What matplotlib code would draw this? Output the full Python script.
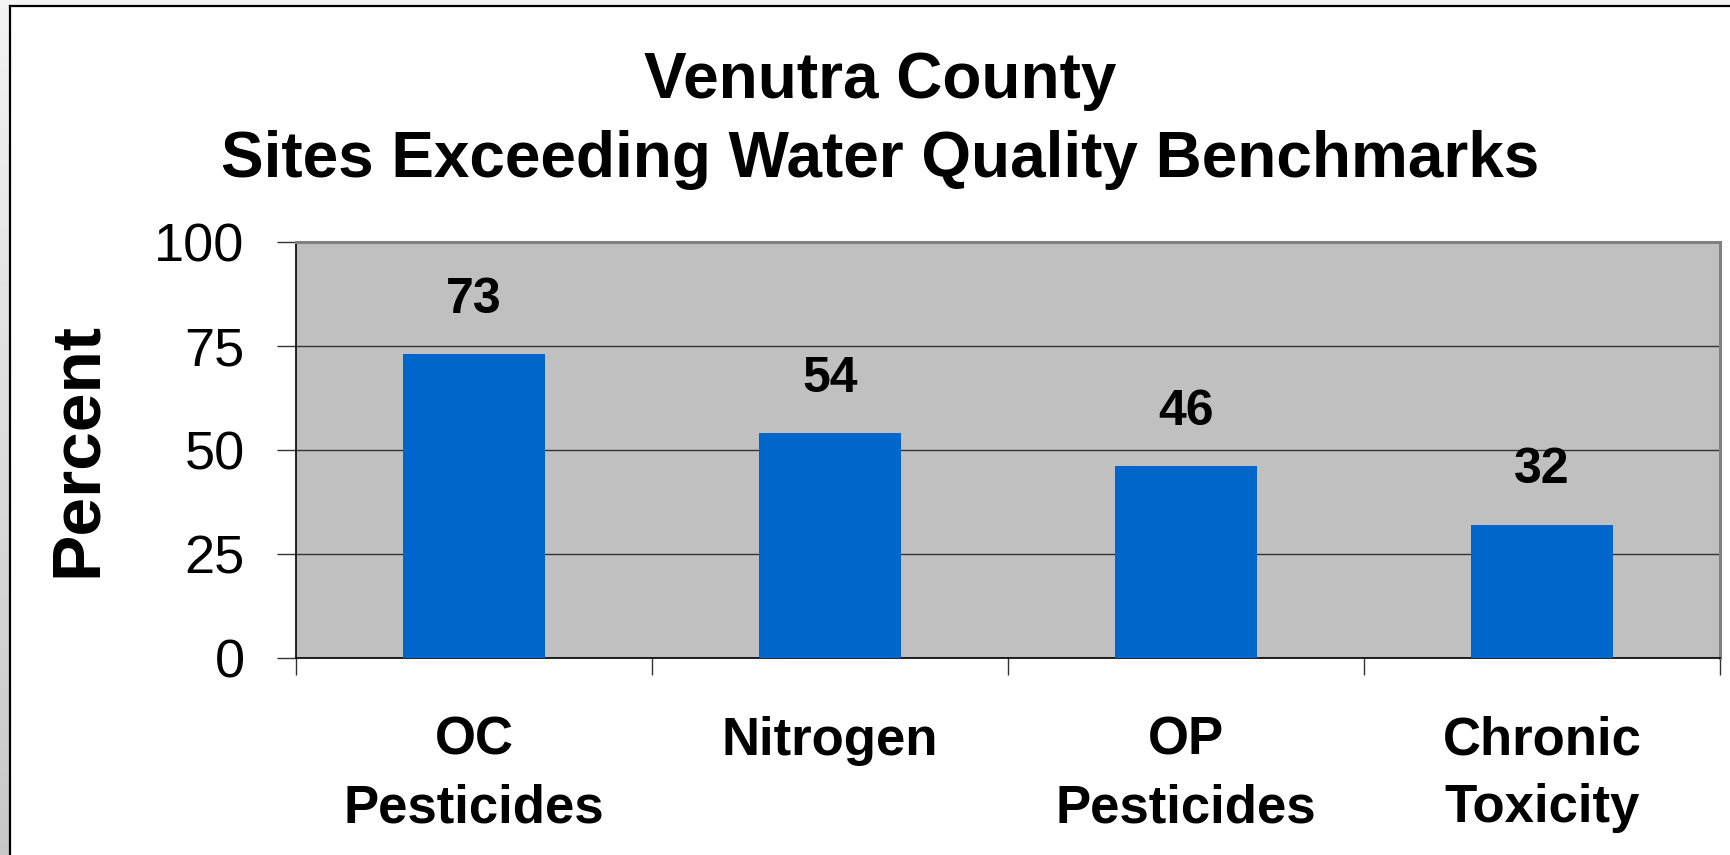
import numpy as np
import matplotlib.pyplot as plt
from matplotlib.patches import Rectangle
from matplotlib.lines import Line2D

# data
categories = ['OC\nPesticides', 'Nitrogen', 'OP\nPesticides', 'Chronic\nToxicity']
percent = [73, 54, 46, 32]
yticks = [0, 25, 50, 75, 100]

plt.rcParams['font.family'] = ['Liberation Sans', 'DejaVu Sans']

fig = plt.figure(figsize=(17.3, 8.55), dpi=100)
W, H = 1730, 855

# slide-like frame: light strips on the top/left, black border line
fig.patches.append(Rectangle((0, 1 - 6 / H), 1, 6 / H, transform=fig.transFigure,
                             facecolor='#f4f4f4', edgecolor='none', zorder=0))
gax = fig.add_axes([0, 0, 10 / W, 1 - 6 / H])
gax.imshow(np.linspace(0.95, 0.78, 200).reshape(-1, 1), cmap='gray', vmin=0, vmax=1,
           aspect='auto', extent=[0, 1, 0, 1])
gax.axis('off')
fig.lines.append(Line2D([10 / W, 1], [1 - 6 / H, 1 - 6 / H], transform=fig.transFigure,
                        color='black', lw=1.6))
fig.lines.append(Line2D([10 / W, 10 / W], [0, 1 - 6 / H], transform=fig.transFigure,
                        color='black', lw=1.6))

ax = fig.add_axes([296 / W, 1 - 657.6 / H, 1424 / W, 415.5 / H])
ax.set_facecolor('#c0c0c0')

x = np.arange(len(categories))
ax.bar(x, percent, width=0.4, color='#0066cc', zorder=3)

for xi, v in zip(x, percent):
    ax.annotate(str(v), (xi, v), xytext=(0, 39), textcoords='offset points',
                ha='center', va='center', fontsize=36, fontweight='bold')

ax.set_xlim(-0.5, len(categories) - 0.5)
ax.set_ylim(0, 100)
ax.set_yticks(yticks)
ax.set_yticklabels([str(t) for t in yticks], fontsize=39)
ax.tick_params(axis='y', direction='out', length=14, width=1, pad=23, color='#333333')
ax.yaxis.grid(True, color='#333333', lw=1, zorder=1)
ax.set_axisbelow(True)

# category labels at bar centres, ticks at category boundaries
ax.set_xticks(x)
ax.set_xticklabels(categories, fontsize=38, fontweight='bold', linespacing=1.45)
ax.tick_params(axis='x', which='major', length=0, pad=42)
ax.set_xticks(np.arange(-0.5, len(categories)), minor=True)
ax.tick_params(axis='x', which='minor', direction='out', length=12, width=1, color='#333333')

for s in ['top', 'right']:
    ax.spines[s].set_color('#808080')
    ax.spines[s].set_linewidth(2.2)
for s in ['left', 'bottom']:
    ax.spines[s].set_color('black')
    ax.spines[s].set_linewidth(1.2)

ax.set_ylabel('Percent', fontsize=50, fontweight='bold', labelpad=32)

fig.text(880 / W, 1 - 98 / H, 'Venutra County', ha='center', va='baseline',
         fontsize=46, fontweight='bold')
fig.text(880 / W, 1 - 177 / H, 'Sites Exceeding Water Quality Benchmarks', ha='center',
         va='baseline', fontsize=46, fontweight='bold')

fig.savefig('out.png', dpi=100)
